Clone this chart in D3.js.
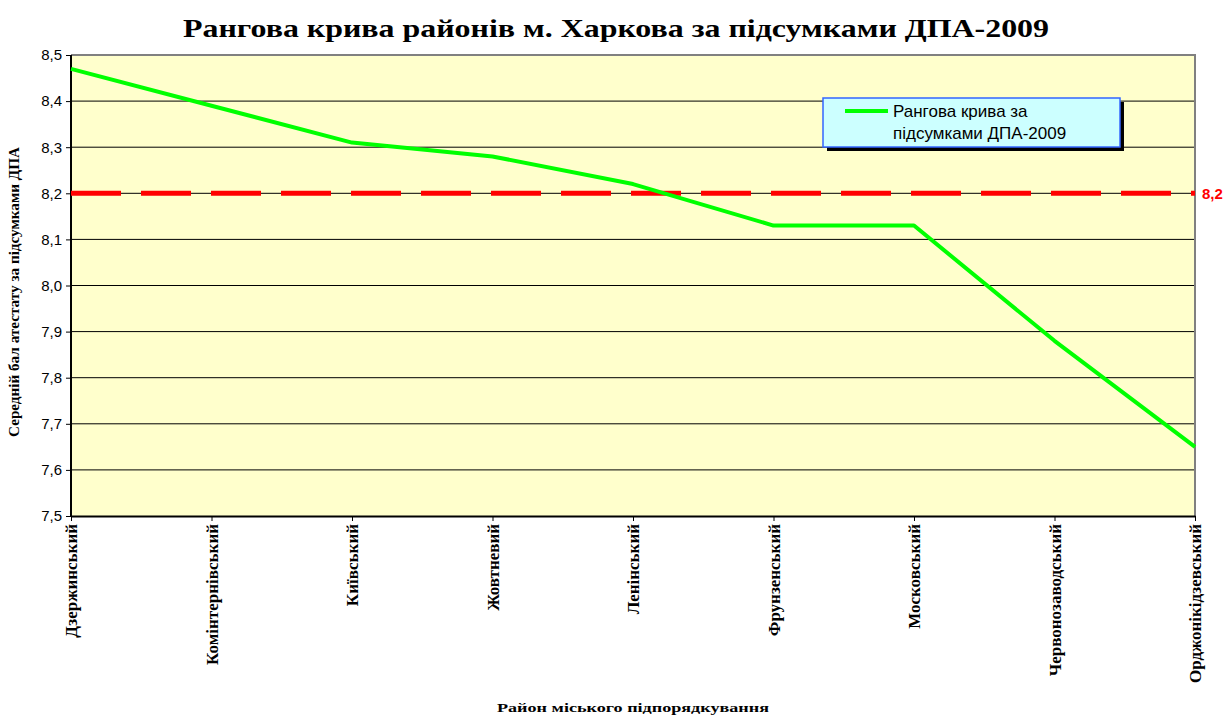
<!DOCTYPE html>
<html>
<head>
<meta charset="utf-8">
<script src="https://cdn.jsdelivr.net/npm/d3@7"></script>
<style>
  body { margin: 0; background: #fff; }
  svg { display: block; }
</style>
</head>
<body>
<svg id="chart" width="1227" height="717"></svg>
<script>
// data
var districts = ["Дзержинський", "Комінтернівський", "Київський", "Жовтневий", "Ленінський",
    "Фрунзенський", "Московський", "Червонозаводський", "Орджонікідзевський"]
var scores = [8.47, 8.39, 8.31, 8.28, 8.22, 8.13, 8.13, 7.88, 7.65]
var yTicks = [7.5, 7.6, 7.7, 7.8, 7.9, 8.0, 8.1, 8.2, 8.3, 8.4, 8.5]
var average = 8.2
var seriesName = ["Рангова крива за", "підсумками ДПА-2009"]

var svg = d3.select("#chart"),
    margin = { top: 55, left: 71, bottom: 201, right: 32 },
    width = 1227, height = 717

var x = d3.scalePoint()
    .domain(districts)
    .range([margin.left, width - margin.right])

var y = d3.scaleLinear()
    .domain([7.5, 8.5])
    .range([height - margin.bottom, margin.top])

var fmt = d => d.toFixed(1).replace(".", ",")

// plot background
svg.append("rect")
    .attr("x", margin.left)
    .attr("y", margin.top)
    .attr("width", width - margin.right - margin.left)
    .attr("height", height - margin.bottom - margin.top)
    .attr("fill", "#ffffcc")

// gridlines
svg.append("g")
    .selectAll("line")
    .data(yTicks.slice(1, -1))
    .join("line")
    .attr("x1", margin.left)
    .attr("x2", width - margin.right)
    .attr("y1", d => y(d))
    .attr("y2", d => y(d))
    .attr("stroke", "#000")
    .attr("stroke-width", 1)

// top/right border
svg.append("path")
    .attr("d", `M${margin.left},${margin.top}H${width - margin.right}V${height - margin.bottom}`)
    .attr("fill", "none")
    .attr("stroke", "#808080")
    .attr("stroke-width", 2)

// y axis
var yAxis = svg.append("g")
    .attr("transform", `translate(${margin.left},0)`)
    .call(d3.axisLeft(y).tickValues(yTicks).tickFormat(fmt).tickSize(5).tickPadding(4))
yAxis.select(".domain").attr("stroke-width", 2).attr("d", `M-0,${y(8.5)}V${y(7.5)}`)
yAxis.selectAll("text")
    .attr("font-family", "Arial, 'Liberation Sans', sans-serif")
    .attr("font-size", 15)
    .attr("fill", "#000")

// x axis
var xAxis = svg.append("g")
    .attr("transform", `translate(0,${height - margin.bottom})`)
    .call(d3.axisBottom(x).tickSize(5).tickSizeOuter(0))
xAxis.select(".domain").attr("stroke-width", 2)
xAxis.selectAll("text")
    .attr("font-family", "'Liberation Serif', 'Times New Roman', serif")
    .attr("font-weight", "bold")
    .attr("font-size", 17)
    .attr("fill", "#000")
    .attr("text-anchor", "end")
    .attr("transform", "rotate(-90)")
    .attr("x", -8)
    .attr("y", 0)
    .attr("dy", "0.35em")

// average line
svg.append("line")
    .attr("x1", margin.left)
    .attr("x2", width - margin.right)
    .attr("y1", y(average))
    .attr("y2", y(average))
    .attr("stroke", "#ff0000")
    .attr("stroke-width", 5)
    .attr("stroke-dasharray", "50,20")

svg.append("text")
    .attr("x", width - margin.right + 7)
    .attr("y", y(average))
    .attr("dy", "0.35em")
    .attr("font-family", "Arial, 'Liberation Sans', sans-serif")
    .attr("font-weight", "bold")
    .attr("font-size", 15)
    .attr("fill", "#ff0000")
    .text(fmt(average))

// rank curve
var line = d3.line()
    .x((d, i) => x(districts[i]))
    .y(d => y(d))

svg.append("path")
    .datum(scores)
    .attr("d", line)
    .attr("fill", "none")
    .attr("stroke", "#00ff00")
    .attr("stroke-width", 4)
    .attr("stroke-linejoin", "round")

// legend
var lg = svg.append("g").attr("transform", "translate(823,98)")
lg.append("rect")
    .attr("x", 4).attr("y", 4)
    .attr("width", 297).attr("height", 49)
    .attr("fill", "#000")
lg.append("rect")
    .attr("width", 297).attr("height", 49)
    .attr("fill", "#ccffff")
    .attr("stroke", "#3366ff")
    .attr("stroke-width", 1.5)
lg.append("line")
    .attr("x1", 22).attr("x2", 65)
    .attr("y1", 13).attr("y2", 13)
    .attr("stroke", "#00ff00")
    .attr("stroke-width", 4)
lg.append("text")
    .attr("font-family", "Arial, 'Liberation Sans', sans-serif")
    .attr("font-size", 17)
    .attr("fill", "#000")
    .selectAll("tspan")
    .data(seriesName)
    .join("tspan")
    .attr("x", 70)
    .attr("y", (d, i) => 19 + i * 22)
    .text(d => d)

// titles
svg.append("text")
    .attr("x", 616)
    .attr("y", 37)
    .attr("text-anchor", "middle")
    .attr("font-family", "'Liberation Serif', 'Times New Roman', serif")
    .attr("font-weight", "bold")
    .attr("font-size", 26)
    .attr("textLength", 866)
    .attr("lengthAdjust", "spacingAndGlyphs")
    .text("Рангова крива районів м. Харкова за підсумками ДПА-2009")

svg.append("text")
    .attr("transform", "translate(19,292) rotate(-90)")
    .attr("text-anchor", "middle")
    .attr("font-family", "'Liberation Serif', 'Times New Roman', serif")
    .attr("font-weight", "bold")
    .attr("font-size", 14)
    .attr("textLength", 290)
    .attr("lengthAdjust", "spacingAndGlyphs")
    .text("Середній бал атестату за підсумками ДПА")

svg.append("text")
    .attr("x", 633)
    .attr("y", 712)
    .attr("text-anchor", "middle")
    .attr("font-family", "'Liberation Serif', 'Times New Roman', serif")
    .attr("font-weight", "bold")
    .attr("font-size", 13)
    .attr("textLength", 272)
    .attr("lengthAdjust", "spacingAndGlyphs")
    .text("Район міського підпорядкування")
</script>
</body>
</html>
